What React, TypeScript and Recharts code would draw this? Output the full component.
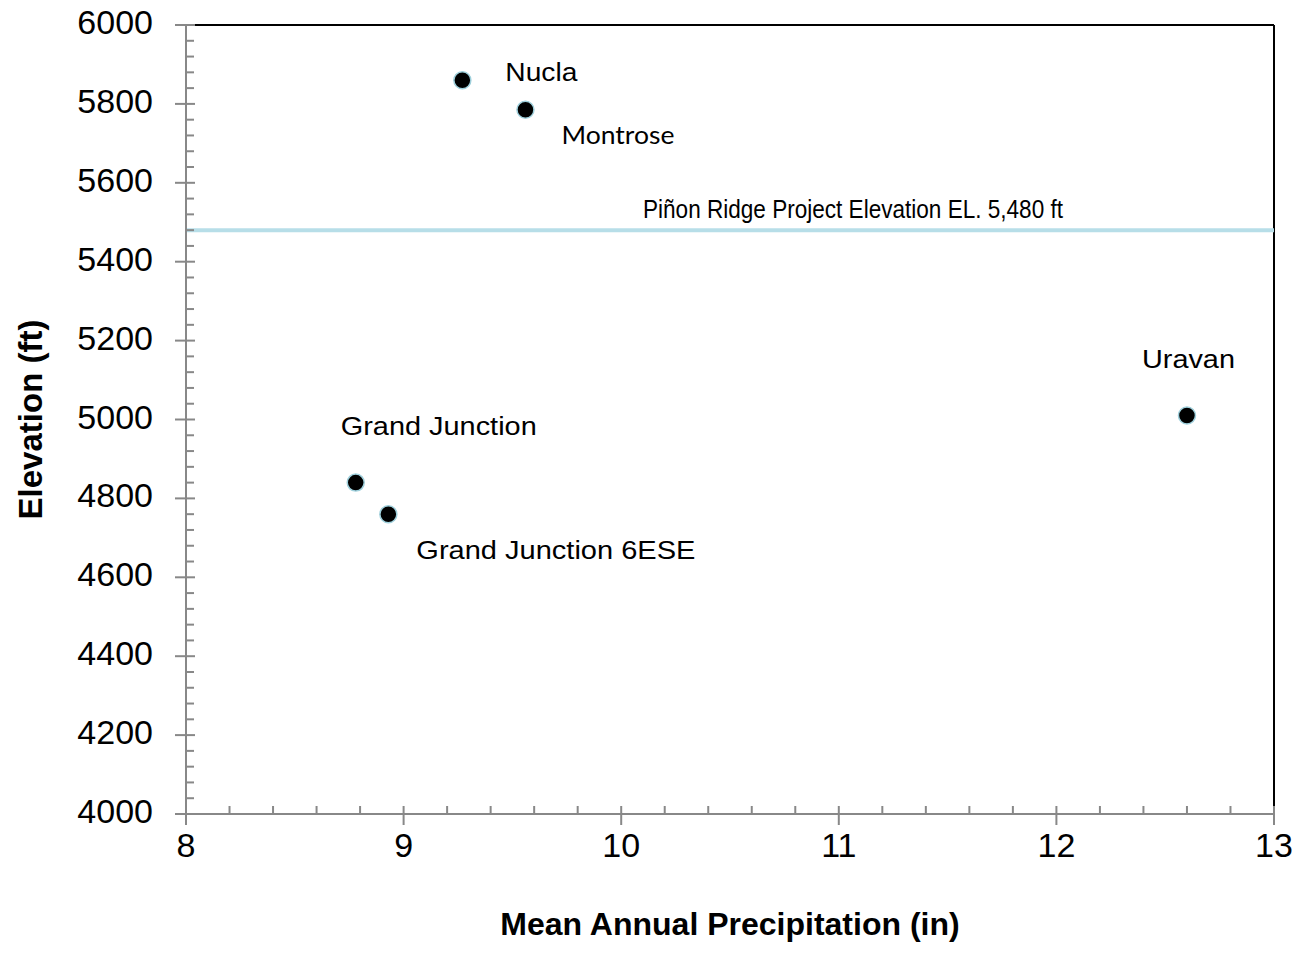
import {
  ScatterChart,
  Scatter,
  XAxis,
  YAxis,
  ReferenceLine,
} from "recharts";

// station data
const stations = ["Nucla", "Montrose", "Grand Junction", "Grand Junction 6ESE", "Uravan"];
const precipitation = [9.27, 9.56, 8.78, 8.93, 12.6]; // inches
const elevation = [5860, 5785, 4840, 4760, 5010]; // ft

const projectElevation = 5480;
const projectLabel = "Piñon Ridge Project Elevation EL. 5,480 ft";

const xMajorTicks = [8, 9, 10, 11, 12, 13];
const yMajorTicks = [4000, 4200, 4400, 4600, 4800, 5000, 5200, 5400, 5600, 5800, 6000];

// minor ticks: 5 steps per x major, 5 steps per y major
const xTicks = xMajorTicks.flatMap((v, i) =>
  i === xMajorTicks.length - 1 ? [v] : [0, 1, 2, 3, 4].map((k) => +(v + k * 0.2).toFixed(1))
);
const yTicks = yMajorTicks.flatMap((v, i) =>
  i === yMajorTicks.length - 1 ? [v] : [0, 1, 2, 3, 4].map((k) => v + k * 40)
);

const data = stations.map((name, i) => ({
  name,
  precip: precipitation[i],
  elev: elevation[i],
}));

const FONT = "Arial, 'Liberation Sans', sans-serif";

// label placement relative to each marker (px)
const labelStyle: Record<string, { dx: number; dy: number; font: string; size: number; len: number }> = {
  Nucla: { dx: 43, dy: 1, font: FONT, size: 26, len: 72 },
  Montrose: { dx: 36, dy: 34, font: "Lato, 'Open Sans'", size: 25, len: 113 },
  "Grand Junction": { dx: -15, dy: -48, font: FONT, size: 26, len: 196 },
  "Grand Junction 6ESE": { dx: 28, dy: 45, font: FONT, size: 26, len: 279 },
  Uravan: { dx: -45, dy: -48, font: FONT, size: 26, len: 93 },
};

const AXIS_GREY = "#888888";

const XTick = (props: any) => {
  const { x, y, payload } = props;
  const v = payload.value;
  const major = Math.abs(v - Math.round(v)) < 1e-6;
  if (!major) {
    return <line x1={x} x2={x} y1={y} y2={y - 8} stroke={AXIS_GREY} strokeWidth={2} />;
  }
  return (
    <g>
      <line x1={x} x2={x} y1={y - 8} y2={y + 11} stroke={AXIS_GREY} strokeWidth={2} />
      <text x={x} y={y + 43} textAnchor="middle" fontFamily={FONT} fontSize={34} fill="#000">
        {v}
      </text>
    </g>
  );
};

const YTick = (props: any) => {
  const { x, y, payload } = props;
  const v = payload.value;
  const major = v % 200 === 0;
  if (!major) {
    return <line x1={x} x2={x + 8} y1={y} y2={y} stroke={AXIS_GREY} strokeWidth={2} />;
  }
  return (
    <g>
      <line x1={x - 11} x2={x + 9} y1={y} y2={y} stroke={AXIS_GREY} strokeWidth={2} />
      <text x={x - 33} y={y + 9} textAnchor="end" fontFamily={FONT} fontSize={34} fill="#000">
        {v}
      </text>
    </g>
  );
};

const StationDot = (props: any) => {
  const { cx, cy, payload } = props;
  const o = labelStyle[payload.name];
  return (
    <g>
      <circle cx={cx} cy={cy} r={8.5} fill="#000" stroke="#9fd0dc" strokeWidth={1.5} />
      <text
        x={cx + o.dx}
        y={cy + o.dy}
        fontFamily={o.font}
        fontSize={o.size}
        textLength={o.len}
        lengthAdjust="spacingAndGlyphs"
        fill="#000"
      >
        {payload.name}
      </text>
    </g>
  );
};

const ProjectLabel = (props: any) => {
  const { viewBox } = props;
  return (
    <text
      x={viewBox.x + 457}
      y={viewBox.y - 12}
      fontFamily={FONT}
      fontSize={26}
      textLength={420}
      lengthAdjust="spacingAndGlyphs"
      fill="#000"
    >
      {projectLabel}
    </text>
  );
};

export default function App() {
  return (
    <div style={{ position: "absolute", left: 0, top: 0, background: "#fff" }}>
      <ScatterChart
        width={1299}
        height={955}
        margin={{ top: 25, right: 25, left: 0, bottom: 0 }}
      >
        <XAxis
          dataKey="precip"
          type="number"
          domain={[8, 13]}
          ticks={xTicks}
          interval={0}
          height={141}
          tickSize={0}
          tickMargin={0}
          tickLine={false}
          tick={<XTick />}
          axisLine={{ stroke: AXIS_GREY, strokeWidth: 2 }}
          label={{
            value: "Mean Annual Precipitation (in)",
            position: "insideBottom",
            offset: 20,
            style: { fontFamily: FONT, fontSize: 32, fontWeight: "bold", fill: "#000" },
          }}
        />
        <YAxis
          dataKey="elev"
          type="number"
          domain={[4000, 6000]}
          ticks={yTicks}
          interval={0}
          width={186}
          tickSize={0}
          tickMargin={0}
          tickLine={false}
          tick={<YTick />}
          axisLine={{ stroke: AXIS_GREY, strokeWidth: 2 }}
          label={{
            value: "Elevation (ft)",
            angle: -90,
            position: "insideLeft",
            offset: 30,
            style: {
              fontFamily: FONT,
              fontSize: 33,
              fontWeight: "bold",
              fill: "#000",
              textAnchor: "middle",
            },
          }}
        />
        {/* plot frame: top and right edges are black */}
        <ReferenceLine y={6000} stroke="#000" strokeWidth={2} />
        <ReferenceLine x={13} stroke="#000" strokeWidth={2} />
        <ReferenceLine
          y={projectElevation}
          stroke="#b7dee8"
          strokeWidth={4}
          label={ProjectLabel}
        />
        <Scatter data={data} shape={StationDot} isAnimationActive={false} />
      </ScatterChart>
    </div>
  );
}
